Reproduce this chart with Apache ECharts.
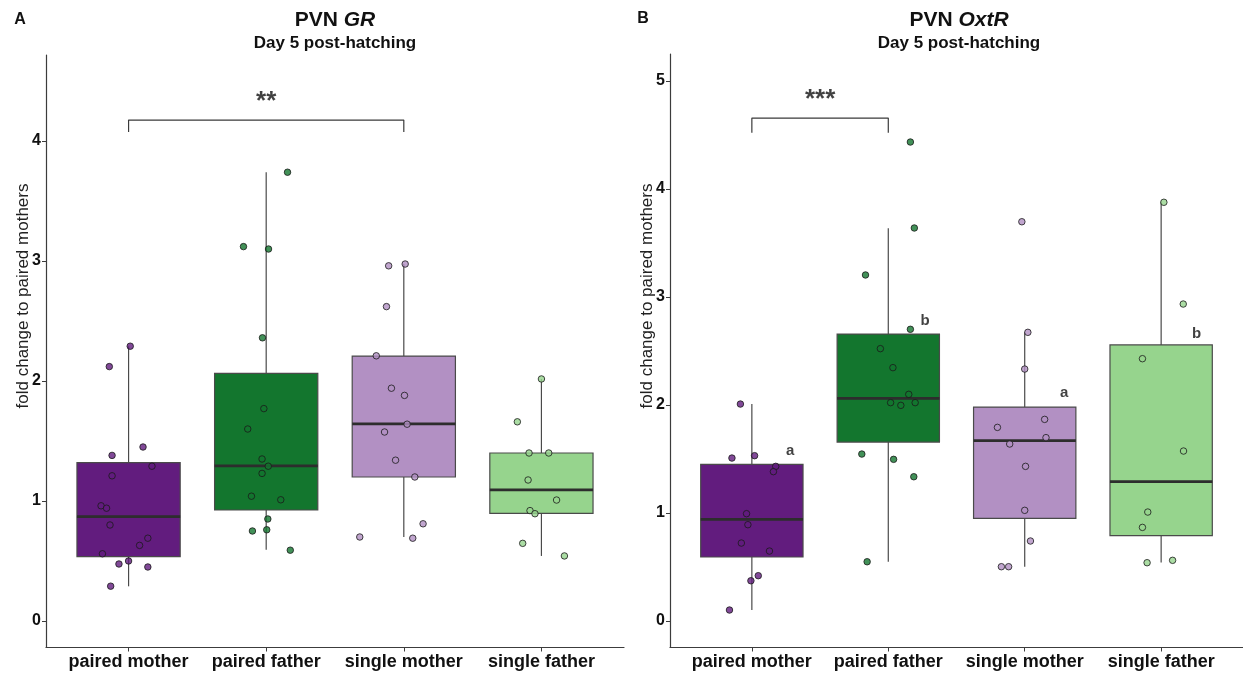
<!DOCTYPE html>
<html>
<head>
<meta charset="utf-8">
<script src="https://cdn.jsdelivr.net/npm/echarts@6/dist/echarts.min.js"></script>
<style>
  html, body { margin: 0; padding: 0; background: #ffffff; }
  #chart { width: 1243px; height: 674px; }
</style>
</head>
<body>
<div id="chart"></div>
<script>
// Groups on the x axis and their fill colours
const groups = ['paired mother', 'paired father', 'single mother', 'single father'];
const groupColors = ['#621c7e', '#13762e', '#b290c3', '#96d48d'];
const yTicksGR = [0, 1, 2, 3, 4];
const yTicksOxtR = [0, 1, 2, 3, 4, 5];

// Box statistics per group: [lower whisker, Q1, median, Q3, upper whisker]
const grBoxes = [
  [0.289, 0.536, 0.869, 1.319, 2.289],
  [0.594, 0.925, 1.292, 2.064, 3.74],
  [0.70, 1.20, 1.642, 2.208, 2.975],
  [0.542, 0.897, 1.092, 1.40, 2.017]
];
const oxtrBoxes = [
  [0.102, 0.593, 0.941, 1.451, 2.009],
  [0.549, 1.657, 2.062, 2.657, 3.636],
  [0.503, 0.951, 1.670, 1.981, 2.673],
  [0.543, 0.790, 1.290, 2.556, 3.877]
];

// Individual birds: [group index, horizontal jitter in category units, fold change]
const grPoints = [
  [0, 0.012, 2.29], [0, -0.14, 2.12], [0, 0.105, 1.45], [0, -0.12, 1.38],
  [0, 0.17, 1.29], [0, -0.12, 1.21], [0, -0.20, 0.96], [0, -0.16, 0.94],
  [0, -0.135, 0.80], [0, 0.14, 0.69], [0, 0.08, 0.63], [0, -0.19, 0.56],
  [0, 0.0, 0.50], [0, -0.07, 0.475], [0, 0.14, 0.45], [0, -0.13, 0.29],
  [1, 0.155, 3.74], [1, -0.165, 3.12], [1, 0.017, 3.10], [1, -0.027, 2.36],
  [1, -0.017, 1.77], [1, -0.134, 1.60], [1, -0.03, 1.35], [1, 0.015, 1.29],
  [1, -0.03, 1.23], [1, -0.107, 1.04], [1, 0.106, 1.01], [1, 0.012, 0.85],
  [1, -0.10, 0.75], [1, 0.004, 0.76], [1, 0.175, 0.59],
  [2, -0.11, 2.96], [2, 0.01, 2.975], [2, -0.126, 2.62], [2, -0.20, 2.21],
  [2, -0.09, 1.94], [2, 0.005, 1.88], [2, 0.024, 1.64], [2, -0.14, 1.575],
  [2, -0.06, 1.34], [2, 0.08, 1.20], [2, -0.32, 0.70], [2, 0.065, 0.69],
  [2, 0.14, 0.81],
  [3, 0.0, 2.017], [3, -0.175, 1.66], [3, -0.09, 1.40], [3, 0.053, 1.40],
  [3, -0.097, 1.175], [3, 0.11, 1.008], [3, -0.083, 0.92], [3, -0.047, 0.894],
  [3, -0.136, 0.647], [3, 0.167, 0.542]
];
const oxtrPoints = [
  [0, -0.084, 2.009], [0, -0.146, 1.509], [0, 0.02, 1.531], [0, 0.175, 1.432],
  [0, 0.158, 1.383], [0, -0.039, 0.994], [0, -0.029, 0.892], [0, -0.077, 0.722],
  [0, 0.129, 0.648], [0, 0.047, 0.42], [0, -0.007, 0.373], [0, -0.164, 0.102],
  [1, 0.162, 4.435], [1, 0.191, 3.639], [1, -0.167, 3.204], [1, 0.162, 2.701],
  [1, -0.058, 2.522], [1, 0.034, 2.346], [1, 0.15, 2.099], [1, 0.017, 2.022],
  [1, 0.092, 1.997], [1, 0.197, 2.022], [1, -0.194, 1.546], [1, 0.039, 1.497],
  [1, 0.187, 1.336], [1, -0.155, 0.549],
  [2, -0.021, 3.697], [2, 0.023, 2.673], [2, 0.0, 2.333], [2, 0.146, 1.867],
  [2, -0.20, 1.793], [2, 0.156, 1.698], [2, -0.11, 1.639], [2, 0.006, 1.432],
  [2, 0.0, 1.025], [2, 0.042, 0.741], [2, -0.171, 0.503], [2, -0.118, 0.503],
  [3, 0.02, 3.877], [3, 0.162, 2.935], [3, -0.137, 2.429], [3, 0.164, 1.574],
  [3, -0.098, 1.009], [3, -0.137, 0.867], [3, -0.103, 0.54], [3, 0.084, 0.562]
];

// Significance brackets: [from group, to group, leg bottom, bar height, stars]
const grBracket = [0, 2, 4.075, 4.175, '**'];
const oxtrBracket = [0, 1, 4.52, 4.657, '***'];

// Post-hoc group letters for OxtR: [x position in category units, y value, letter]
const oxtrLetters = [
  [0.28, 1.574, 'a'],
  [1.27, 2.775, 'b'],
  [2.29, 2.114, 'a'],
  [3.26, 2.66, 'b']
];

const FONT = '"Liberation Sans", Arial, Helvetica, sans-serif';
const AXIS_COLOR = '#3c3c3c';

const chart = echarts.init(document.getElementById('chart'), null, { renderer: 'canvas' });

function renderBox(params, api) {
  const x = api.value(0);
  const lo = api.coord([x, api.value(1)]);
  const q1 = api.coord([x, api.value(2)]);
  const med = api.coord([x, api.value(3)]);
  const q3 = api.coord([x, api.value(4)]);
  const hi = api.coord([x, api.value(5)]);
  const half = api.size([0.75, 0])[0] / 2;
  const color = groupColors[Math.round(x)];
  const edge = '#4a4a4a';
  return {
    type: 'group',
    children: [
      { type: 'line', shape: { x1: lo[0], y1: lo[1], x2: q1[0], y2: q1[1] },
        style: { stroke: edge, lineWidth: 1.2 } },
      { type: 'line', shape: { x1: q3[0], y1: q3[1], x2: hi[0], y2: hi[1] },
        style: { stroke: edge, lineWidth: 1.2 } },
      { type: 'rect', shape: { x: q3[0] - half, y: q3[1], width: half * 2, height: q1[1] - q3[1] },
        style: { fill: color, stroke: edge, lineWidth: 1.2 } },
      { type: 'line', shape: { x1: med[0] - half, y1: med[1], x2: med[0] + half, y2: med[1] },
        style: { stroke: '#2d2d2d', lineWidth: 2.8 } }
    ]
  };
}

function xAxisFor(gridIndex) {
  return {
    type: 'value', gridIndex: gridIndex, min: -0.6, max: 3.6,
    axisLine: { show: true, onZero: false, lineStyle: { color: AXIS_COLOR, width: 1.2 } },
    axisTick: { show: true, customValues: [0, 1, 2, 3], length: 4, lineStyle: { color: AXIS_COLOR } },
    axisLabel: {
      customValues: [0, 1, 2, 3], formatter: v => groups[Math.round(v)],
      fontFamily: FONT, fontWeight: 'bold', fontSize: 18, color: '#111', margin: 6
    },
    splitLine: { show: false }
  };
}

function yAxisFor(gridIndex, min, max, ticks) {
  return {
    type: 'value', gridIndex: gridIndex, min: min, max: max,
    axisLine: { show: true, onZero: false, lineStyle: { color: AXIS_COLOR, width: 1.2 } },
    axisTick: { show: true, customValues: ticks, length: 4, lineStyle: { color: AXIS_COLOR } },
    axisLabel: {
      customValues: ticks, fontFamily: FONT, fontWeight: 'bold', fontSize: 16, color: '#111', margin: 5
    },
    splitLine: { show: false }
  };
}

function panelSeries(idx, boxes, points, bracket) {
  const series = [];
  series.push({
    type: 'custom', xAxisIndex: idx, yAxisIndex: idx,
    renderItem: renderBox,
    encode: { x: 0, y: [1, 2, 3, 4, 5] },
    data: boxes.map((b, i) => [i].concat(b)),
    z: 2, silent: true
  });
  series.push({
    type: 'scatter', xAxisIndex: idx, yAxisIndex: idx,
    symbol: 'circle', symbolSize: 6.5,
    data: points.map(p => ({
      value: [p[0] + p[1], p[2]],
      itemStyle: { color: groupColors[p[0]], borderColor: '#1a1a1a', borderWidth: 1 }
    })),
    z: 5, silent: true
  });
  const [from, to, leg, bar, stars] = bracket;
  series.push({
    type: 'line', xAxisIndex: idx, yAxisIndex: idx,
    data: [[from, leg], [from, bar], [to, bar], [to, leg]],
    symbol: 'none', lineStyle: { color: '#3a3a3a', width: 1.2 },
    z: 4, silent: true, animation: false
  });
  series.push({
    type: 'scatter', xAxisIndex: idx, yAxisIndex: idx,
    symbolSize: 0,
    data: [[(from + to) / 2, bar]],
    label: {
      show: true, position: 'inside', offset: [0, -18], formatter: stars,
      fontFamily: FONT, fontWeight: 'bold', fontSize: 26, color: '#111'
    },
    z: 4, silent: true
  });
  return series;
}

const series = []
  .concat(panelSeries(0, grBoxes, grPoints, grBracket))
  .concat(panelSeries(1, oxtrBoxes, oxtrPoints, oxtrBracket));

series.push({
  type: 'scatter', xAxisIndex: 1, yAxisIndex: 1,
  symbolSize: 0,
  data: oxtrLetters.map(l => ({ value: [l[0], l[1]], name: l[2] })),
  label: {
    show: true, position: 'inside', formatter: p => p.name,
    fontFamily: FONT, fontWeight: 'bold', fontSize: 15, color: '#111'
  },
  z: 6, silent: true
});

function titleText(x, gene) {
  return [
    { type: 'text', x: x, y: 20, style: {
      text: '{n|PVN }{i|' + gene + '}', align: 'center', verticalAlign: 'middle',
      rich: {
        n: { fontFamily: FONT, fontWeight: 'bold', fontSize: 21, fill: '#111' },
        i: { fontFamily: FONT, fontWeight: 'bold', fontStyle: 'italic', fontSize: 21, fill: '#111' }
      }
    } },
    { type: 'text', x: x, y: 43, style: {
      text: 'Day 5 post-hatching', align: 'center', verticalAlign: 'middle',
      font: 'bold 17px ' + FONT, fill: '#111'
    } }
  ];
}

function yTitle(x) {
  return { type: 'text', x: x, y: 296, rotation: Math.PI / 2, style: {
    text: 'fold change to paired mothers', align: 'center', verticalAlign: 'middle',
    font: '17px ' + FONT, fill: '#222'
  } };
}

chart.setOption({
  animation: false,
  backgroundColor: '#ffffff',
  grid: [
    { left: 46, top: 55, width: 578, height: 592.5 },
    { left: 670, top: 54, width: 577, height: 593.5 }
  ],
  xAxis: [xAxisFor(0), xAxisFor(1)],
  yAxis: [
    yAxisFor(0, -0.221, 4.717, yTicksGR),
    yAxisFor(1, -0.245, 5.25, yTicksOxtR)
  ],
  graphic: [
    { type: 'text', x: 20, y: 20, style: { text: 'A', align: 'center', verticalAlign: 'middle', font: 'bold 16px ' + FONT, fill: '#111' } },
    { type: 'text', x: 643, y: 19, style: { text: 'B', align: 'center', verticalAlign: 'middle', font: 'bold 16px ' + FONT, fill: '#111' } },
    yTitle(23), yTitle(647)
  ].concat(titleText(335, 'GR')).concat(titleText(959, 'OxtR')),
  series: series
});
</script>
</body>
</html>
